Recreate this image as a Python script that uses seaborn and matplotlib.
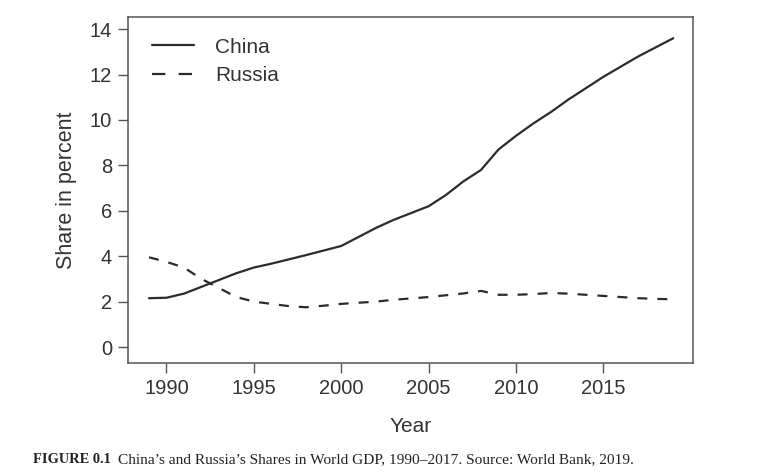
import matplotlib
matplotlib.use("Agg")
import matplotlib.pyplot as plt
import seaborn as sns
import pandas as pd

years = list(range(1989, 2020))
china = [2.15, 2.17, 2.35, 2.65, 2.95, 3.25, 3.50, 3.67, 3.86, 4.05, 4.25,
         4.45, 4.85, 5.25, 5.60, 5.90, 6.20, 6.70, 7.30, 7.80, 8.70,
         9.30, 9.85, 10.35, 10.90, 11.40, 11.90, 12.35, 12.80, 13.20, 13.60]
russia = [3.95, 3.75, 3.50, 3.00, 2.60, 2.20, 2.00, 1.90, 1.80, 1.75, 1.82,
          1.90, 1.95, 2.00, 2.08, 2.14, 2.20, 2.28, 2.36, 2.47, 2.30,
          2.30, 2.33, 2.38, 2.35, 2.30, 2.25, 2.20, 2.15, 2.12, 2.10]
countries = ["China", "Russia"]
xticks = [1990, 1995, 2000, 2005, 2010, 2015]
yticks = [0, 2, 4, 6, 8, 10, 12, 14]

df = pd.DataFrame({
    "Year": years * 2,
    "Share": china + russia,
    "Country": [countries[0]] * len(years) + [countries[1]] * len(years),
})

sns.set_style("white")
plt.rcParams["font.family"] = ["Liberation Sans", "DejaVu Sans"]

fig = plt.figure(figsize=(7.68, 4.75), dpi=100)
ax = fig.add_axes([0.1667, 0.236, 0.735, 0.728])

sns.lineplot(data=df, x="Year", y="Share", style="Country",
             dashes={"China": "", "Russia": (4.5, 4.5)},
             color="#2b2b2b", linewidth=1.6, ax=ax)

ax.set_xlim(1987.8, 2020.1)
ax.set_ylim(-0.7, 14.53)
ax.set_xticks(xticks)
ax.set_yticks(yticks)
ax.tick_params(axis="both", direction="out", length=7.5, width=1.0,
               color="#555555", labelsize=14.5, labelcolor="#333333", pad=4,
               bottom=True, left=True)
for s in ax.spines.values():
    s.set_color("#555555")
    s.set_linewidth(1.1)
    s.set_visible(True)

ax.set_xlabel("Year", fontsize=15, color="#333333", labelpad=14)
ax.set_ylabel("Share in percent", fontsize=15.5, color="#333333", labelpad=9)

handles, labels = ax.get_legend_handles_labels()
leg = ax.legend(handles, labels, loc="upper left", frameon=False,
                fontsize=15, handlelength=2.0, handletextpad=1.0,
                labelspacing=0.45, bbox_to_anchor=(0.01, 0.995),
                labelcolor="#333333")
leg.get_lines()[1].set_dashes((6, 6))

fig.text(0.043, 0.025, "FIGURE 0.1", fontsize=10.4, fontweight="bold",
         family=["Liberation Serif", "DejaVu Serif"], color="#222222")
fig.text(0.154, 0.025,
         "China\u2019s and Russia\u2019s Shares in World GDP, 1990\u20132017. Source: World Bank, 2019.",
         fontsize=11.1, family=["Liberation Serif", "DejaVu Serif"], color="#222222")

fig.savefig("out.png", dpi=100, facecolor="white")
